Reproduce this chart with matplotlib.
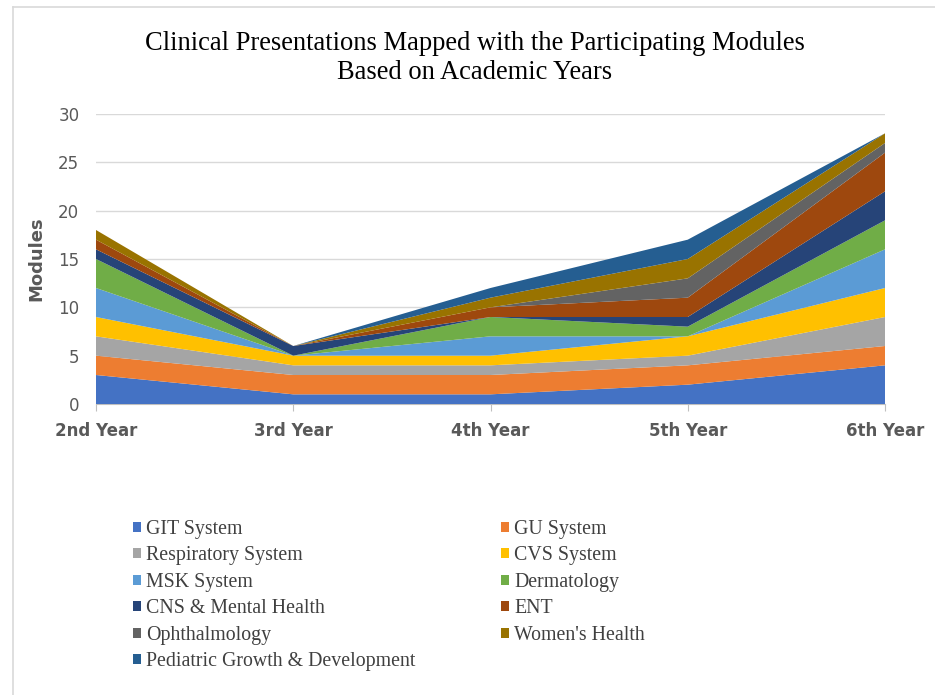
import matplotlib
matplotlib.use("Agg")
import matplotlib.pyplot as plt
from matplotlib.patches import Patch
from matplotlib.lines import Line2D

years = ["2nd Year", "3rd Year", "4th Year", "5th Year", "6th Year"]
series_names = ["GIT System", "GU System", "Respiratory System", "CVS System",
                "MSK System", "Dermatology", "CNS & Mental Health", "ENT",
                "Ophthalmology", "Women's Health", "Pediatric Growth & Development"]
git = [3, 1, 1, 2, 4]
gu = [2, 2, 2, 2, 2]
resp = [2, 1, 1, 1, 3]
cvs = [2, 1, 1, 2, 3]
msk = [3, 0, 2, 0, 4]
derm = [3, 0, 2, 1, 3]
cns = [1, 1, 0, 1, 3]
ent = [1, 0, 1, 2, 4]
ophth = [0, 0, 0, 2, 1]
womens = [1, 0, 1, 2, 1]
pediatric = [0, 0, 1, 2, 0]
series_values = [git, gu, resp, cvs, msk, derm, cns, ent, ophth, womens, pediatric]
colors = ["#4472C4", "#ED7D31", "#A5A5A5", "#FFC000", "#5B9BD5", "#70AD47",
          "#264478", "#9E480E", "#636363", "#997300", "#255E91"]
yticks = [0, 5, 10, 15, 20, 25, 30]

fig = plt.figure(figsize=(9.35, 6.95), dpi=100)
ax = fig.add_axes([96/935, 1-404/695, (885-96)/935, (404-114)/695])
x = list(range(len(years)))
ax.stackplot(x, *series_values, colors=colors, zorder=3)
ax.set_xlim(0, len(years)-1)
ax.set_ylim(0, 30)
ax.set_yticks(yticks)
ax.yaxis.grid(True, color="#D9D9D9", linewidth=1, zorder=0)
ax.set_xticks(x)
ax.set_xticklabels(years, fontsize=12, fontweight="bold", color="#595959")
ax.tick_params(axis="y", length=0, labelsize=12, labelcolor="#595959", pad=12)
ax.tick_params(axis="x", length=5, color="#BFBFBF", pad=8)
for s in ["top", "right", "left"]:
    ax.spines[s].set_visible(False)
ax.spines["bottom"].set_color("#BFBFBF")
ax.set_ylabel("Modules", fontsize=13, fontweight="bold", color="#595959", labelpad=9)

fig.text(475/935, 1-58/695, "Clinical Presentations Mapped with the Participating Modules\nBased on Academic Years",
         ha="center", va="center", fontsize=19.1, family="Liberation Serif", color="black", linespacing=1.24)

# legend: Excel order row-wise -> reorder for column-wise filling
handles = [Patch(facecolor=c, edgecolor="none") for c in colors]
order = [0, 2, 4, 6, 8, 10, 1, 3, 5, 7, 9]
leg = fig.legend([handles[i] for i in order], [series_names[i] for i in order],
                 ncol=2, loc="upper left", bbox_to_anchor=(125/935, 1-512/695),
                 frameon=False, prop={"family": "Liberation Serif", "size": 14.3},
                 handlelength=0.42, handleheight=0.42, handletextpad=0.25,
                 labelspacing=0.375, columnspacing=4.3, borderaxespad=0)
for t in leg.get_texts():
    t.set_color("#404040")

# chart frame lines (left and top)
fig.add_artist(Line2D([13/935, 13/935], [0, 1-7/695], transform=fig.transFigure, color="#D9D9D9", lw=1.2))
fig.add_artist(Line2D([13/935, 1], [1-7/695, 1-7/695], transform=fig.transFigure, color="#D9D9D9", lw=1.2))

fig.savefig("out.png", dpi=100, facecolor="white")
